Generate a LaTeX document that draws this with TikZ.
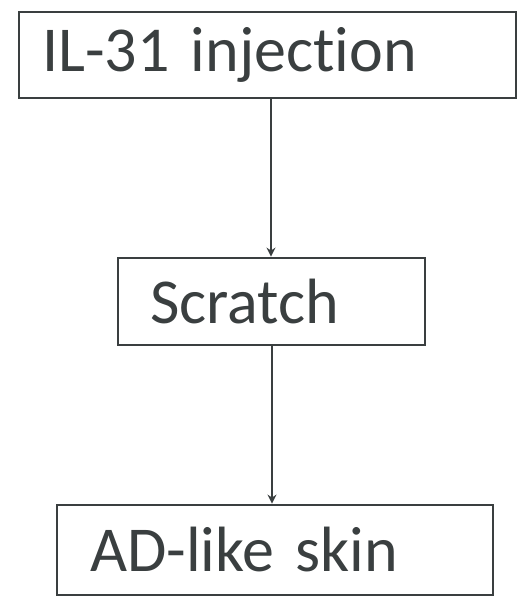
\documentclass[tikz,border=0pt]{standalone}
\usepackage{fontspec}
\setmainfont[Ligatures={NoCommon}]{Carlito}
\usetikzlibrary{arrows.meta}
\definecolor{ink}{HTML}{3A3F40}
\begin{document}
\begin{tikzpicture}[x=1pt,y=1pt,
  box/.style={draw=ink, line width=2.8pt, text=ink, font=\fontsize{64}{66}\selectfont,
    align=left, inner ysep=0pt, anchor=center},
  conn/.style={draw=ink, line width=2.2pt, -{Stealth[length=9pt,width=9pt]}}]
\useasboundingbox (0,0) rectangle (531,605);
\node[box, minimum width=497pt, minimum height=86pt, text width=451pt, inner xsep=23pt] (b1) at (267.5,550) {IL-31 injection};
\node[box, minimum width=307pt, minimum height=87pt, text width=243pt, inner xsep=32pt] (b2) at (271.5,303.5) {Scratch};
\node[box, minimum width=436pt, minimum height=90pt, text width=370pt, inner xsep=33pt] (b3) at (275,55) {AD-like skin};
\coordinate (a1) at (271,0);
\coordinate (a2) at (272,0);
\draw[conn] (b1.south -| a1) -- (b2.north -| a1);
\draw[conn] (b2.south -| a2) -- (b3.north -| a2);
\end{tikzpicture}
\end{document}
